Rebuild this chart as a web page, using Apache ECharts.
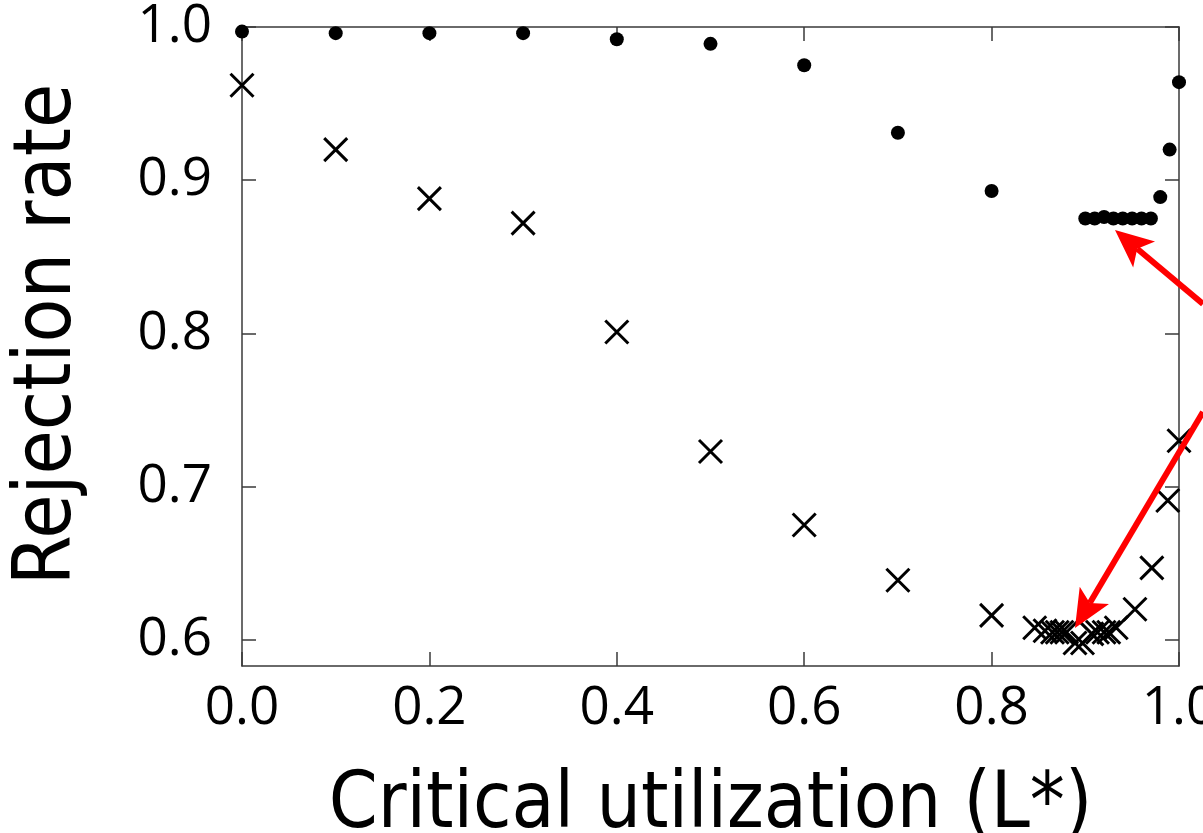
<!DOCTYPE html>
<html>
<head>
<meta charset="utf-8">
<script src="https://cdn.jsdelivr.net/npm/echarts@6/dist/echarts.min.js"></script>
<style>
html,body{margin:0;padding:0;background:#fff;}
#chart{width:1203px;height:833px;}
</style>
</head>
<body>
<div id="chart"></div>
<script>
// Data
const dotX = [0.0, 0.1, 0.2, 0.3, 0.4, 0.5, 0.6, 0.7, 0.8, 0.90, 0.91, 0.92, 0.93, 0.94, 0.95, 0.96, 0.97, 0.98, 0.99, 1.0];
const dotY = [0.997, 0.996, 0.996, 0.996, 0.992, 0.989, 0.975, 0.931, 0.893, 0.875, 0.875, 0.876, 0.875, 0.875, 0.875, 0.875, 0.875, 0.889, 0.920, 0.964];

const crossX = [0.0, 0.1, 0.2, 0.3, 0.4, 0.5, 0.6, 0.7, 0.8, 0.846, 0.857, 0.865, 0.870, 0.875, 0.880, 0.889, 0.897, 0.907, 0.913, 0.920, 0.925, 0.933, 0.953, 0.971, 0.988, 1.0];
const crossY = [0.962, 0.920, 0.888, 0.872, 0.801, 0.723, 0.675, 0.639, 0.616, 0.608, 0.606, 0.605, 0.605, 0.605, 0.605, 0.598, 0.598, 0.604, 0.605, 0.605, 0.605, 0.608, 0.620, 0.647, 0.691, 0.730];

const xTicks = [0.0, 0.2, 0.4, 0.6, 0.8, 1.0];
const yTicks = [0.6, 0.7, 0.8, 0.9, 1.0];

// Annotation arrows (start -> tip), in data coordinates
const arrowTop = [[1.0256, 0.8193], [0.9317, 0.8675]];
const arrowBottom = [[1.0256, 0.7488], [0.889, 0.6078]];

const xMin = 0, xMax = 1.0, yMin = 0.583, yMax = 1.0;

const axisColor = '#3a3a3a';
const labelFont = '"Open Sans", "DejaVu Sans", sans-serif';
const titleFont = '"Liberation Sans Narrow", "DejaVu Sans Condensed", "Open Sans", sans-serif';

const chart = echarts.init(document.getElementById('chart'), null, {renderer: 'canvas'});

const baseAxisLine = {show: true, onZero: false, lineStyle: {color: axisColor, width: 1.5}};
const tickStyle = {inside: true, length: 14, lineStyle: {color: axisColor, width: 1.5}};

const option = {
  backgroundColor: '#ffffff',
  animation: false,
  grid: {left: 242, right: 24, top: 27, bottom: 167, containLabel: false, outerBoundsMode: 'none'},
  xAxis: [
    {
      type: 'value', min: xMin, max: xMax, position: 'bottom',
      name: 'Critical utilization (L*)', nameLocation: 'middle', nameGap: 102,
      nameTextStyle: {fontSize: 78, color: '#000', fontFamily: titleFont},
      axisLine: baseAxisLine,
      axisTick: Object.assign({customValues: xTicks}, tickStyle),
      axisLabel: {customValues: xTicks, fontSize: 53, color: '#000', fontFamily: labelFont, margin: 16,
        hideOverlap: false, formatter: v => v.toFixed(1)},
      splitLine: {show: false}
    },
    {
      type: 'value', min: xMin, max: xMax, position: 'top',
      axisLine: baseAxisLine,
      axisTick: Object.assign({customValues: xTicks}, tickStyle),
      axisLabel: {show: false},
      splitLine: {show: false}
    }
  ],
  yAxis: [
    {
      type: 'value', min: yMin, max: yMax, position: 'left',
      name: 'Rejection rate', nameLocation: 'middle', nameGap: 153,
      nameTextStyle: {fontSize: 80, color: '#000', fontFamily: titleFont, padding: [0, 0, 0, 24]},
      axisLine: baseAxisLine,
      axisTick: Object.assign({customValues: yTicks}, tickStyle),
      axisLabel: {customValues: yTicks, fontSize: 53, color: '#000', fontFamily: labelFont, margin: 30,
        formatter: v => v.toFixed(1)},
      splitLine: {show: false}
    },
    {
      type: 'value', min: yMin, max: yMax, position: 'right',
      axisLine: baseAxisLine,
      axisTick: Object.assign({customValues: yTicks}, tickStyle),
      axisLabel: {show: false},
      splitLine: {show: false}
    }
  ],
  series: [
    {
      type: 'scatter', name: 'dots',
      xAxisIndex: 0, yAxisIndex: 0, clip: false,
      symbol: 'circle', symbolSize: 14,
      itemStyle: {color: '#000', opacity: 1},
      emphasis: {disabled: true},
      data: dotX.map((x, i) => [x, dotY[i]])
    },
    {
      type: 'scatter', name: 'crosses',
      xAxisIndex: 0, yAxisIndex: 0, clip: false,
      symbol: 'path://M0,0L10,10M10,0L0,10', symbolSize: 23,
      itemStyle: {color: 'rgba(0,0,0,0)', borderColor: '#000', borderWidth: 3, opacity: 1},
      emphasis: {disabled: true},
      data: crossX.map((x, i) => [x, crossY[i]])
    }
  ]
};
chart.setOption(option);

// Red annotation arrows, positioned through the chart's own scales
function arrowGraphics(pair) {
  const s = chart.convertToPixel({gridIndex: 0}, pair[0]);
  const t = chart.convertToPixel({gridIndex: 0}, pair[1]);
  const dx = t[0] - s[0], dy = t[1] - s[1];
  const len = Math.sqrt(dx * dx + dy * dy);
  const ux = dx / len, uy = dy / len;
  const px = -uy, py = ux;
  const headLen = 38, headHalf = 17, notch = 29;
  const bx = t[0] - ux * headLen, by = t[1] - uy * headLen;
  const nx = t[0] - ux * notch, ny = t[1] - uy * notch;
  return [
    {
      type: 'line', silent: true, z: 100,
      shape: {x1: s[0], y1: s[1], x2: nx, y2: ny},
      style: {stroke: '#ff0000', lineWidth: 6}
    },
    {
      type: 'polygon', silent: true, z: 101,
      shape: {points: [
        [t[0], t[1]],
        [bx + px * headHalf, by + py * headHalf],
        [nx, ny],
        [bx - px * headHalf, by - py * headHalf]
      ]},
      style: {fill: '#ff0000'}
    }
  ];
}
chart.setOption({graphic: arrowGraphics(arrowTop).concat(arrowGraphics(arrowBottom))});
</script>
</body>
</html>
